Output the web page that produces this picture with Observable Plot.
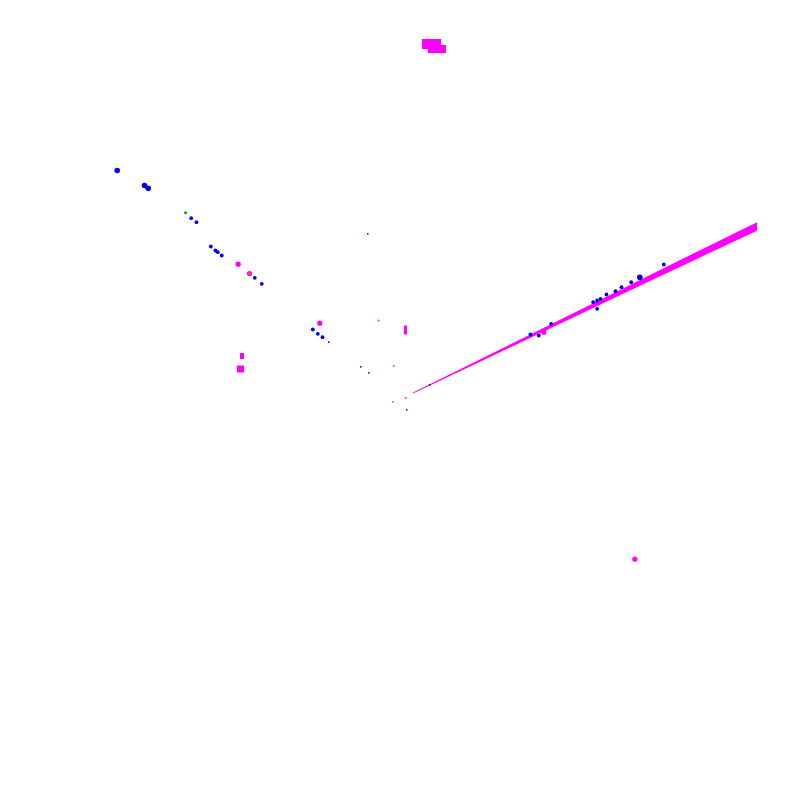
<!DOCTYPE html>
<html>
<head>
<meta charset="utf-8">
<style>html,body{margin:0;padding:0;background:#fff;}</style>
<script src="https://cdn.jsdelivr.net/npm/d3@7"></script>
<script src="https://cdn.jsdelivr.net/npm/@observablehq/plot@0.6"></script>
</head>
<body>
<div id="chart"></div>
<script>
// Values (data units, origin at centre, y up)
const blueLargeX = [-283.3, -256, -252.3, 239.3];
const blueLargeY = [230, 215, 212.3, 123.3];
const blueMidX = [-209.3, -204, -189.7, -185, -182.7, -178.7, -145.7, -138.7, -87.7, -82.7, -78, 263.3, 230.7, 221, 215, 206, 200, 196.7, 192.7, 196.7, 150.7, 138.3, 130];
const blueMidY = [182.3, 178.3, 154, 150, 148.3, 145, 122.7, 116.7, 71, 66.7, 63.3, 136, 118.3, 113.3, 109.3, 106, 101.7, 100, 98.3, 91.7, 76.7, 65, 66];
const blueSmallX = [-71.7, -39.7, -31.7, 6.3, 29.3, -32.7];
const blueSmallY = [58.3, 33.7, 27.7, -9.3, 15.7, 166.7];
const magentaX = [-80.7, -162.3, 234.3, 143.3, -151];
const magentaY = [77.3, 136.3, -158.7, 68.3, 127];
const magentaSmallX = [-6.7, -7.7, 5.3, -22];
const magentaSmallY = [34.7, -1.3, 2.7, 80];
const orangeX = [-151];
const orangeY = [127];
const greenX = [-215];
const greenY = [187.7];
// rectangular magenta patches
const patchX1 = [22, 28, -160, -163, 4];
const patchX2 = [41, 46, -156, -156, 7];
const patchY1 = [351, 347, 41, 27.5, 65.5];
const patchY2 = [361, 355, 47, 34.5, 74.5];
// the long magenta streak
const streakX = [13, 50, 100, 150, 200, 250, 300, 357];
const streakMid = [7, 24.9, 49.2, 73.4, 97.7, 121.9, 146.2, 173.5];
const streakHalf = [0.5, 0.9, 1.4, 1.9, 2.4, 3, 3.6, 4.2];

const zip = (xs, ys) => xs.map((x, i) => ({x, y: ys[i]}));
const patches = patchX1.map((x1, i) => ({x1, x2: patchX2[i], y1: patchY1[i], y2: patchY2[i]}));
const streak = streakX.map((x, i) => ({x, lo: streakMid[i] - streakHalf[i], hi: streakMid[i] + streakHalf[i]}));

const MAG = "#ff00ff", BLUE = "#0000ff";
const chart = Plot.plot({
  width: 800, height: 800,
  margin: 0,
  x: {domain: [-400, 400], axis: null},
  y: {domain: [-400, 400], axis: null},
  marks: [
    Plot.areaY(streak, {x: "x", y1: "lo", y2: "hi", fill: MAG}),
    Plot.rect(patches, {x1: "x1", x2: "x2", y1: "y1", y2: "y2", fill: MAG}),
    Plot.dot(zip(magentaX, magentaY), {x: "x", y: "y", r: 2.6, fill: MAG}),
    Plot.dot(zip(magentaSmallX, magentaSmallY), {x: "x", y: "y", r: 0.9, fill: MAG}),
    Plot.dot(zip(orangeX, orangeY), {x: "x", y: "y", r: 1.2, fill: "#ff6600"}),
    Plot.dot(zip(greenX, greenY), {x: "x", y: "y", r: 1.5, fill: "#00aa00"}),
    Plot.dot(zip(blueLargeX, blueLargeY), {x: "x", y: "y", r: 2.8, fill: BLUE}),
    Plot.dot(zip(blueMidX, blueMidY), {x: "x", y: "y", r: 1.9, fill: BLUE}),
    Plot.dot(zip(blueSmallX, blueSmallY), {x: "x", y: "y", r: 0.9, fill: BLUE})
  ]
});
document.getElementById("chart").appendChild(chart);
</script>
</body>
</html>
